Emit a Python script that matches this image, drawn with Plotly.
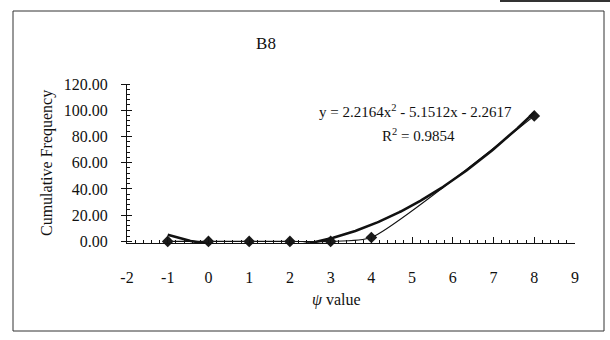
import numpy as np
import plotly.graph_objects as go

# Observed data (phi value vs cumulative frequency)
phi_values = [-1, 0, 1, 2, 3, 4, 8]
cum_freq = [0.0, 0.0, 0.0, 0.0, 0.0, 3.0, 95.7]

# Polynomial trendline coefficients (order 2) and fit quality
coef_a, coef_b, coef_c = 2.2164, -5.1512, -2.2617
r_squared = 0.9854

x_ticks = list(range(-2, 10))
y_ticks = [0, 20, 40, 60, 80, 100, 120]

W, H = 610, 340
ML, MR, MT, MB = 127, 35, 84, 97
PW, PH = W - ML - MR, H - MT - MB


def px(x):
    return (x - ML) / PW


def py(y):
    return (H - MB - y) / PH


FONT = "Liberation Serif, Times New Roman, serif"
INK = "#111111"

trend_x = np.linspace(min(phi_values), max(phi_values), 300)
trend_y = coef_a * trend_x ** 2 + coef_b * trend_x + coef_c

fig = go.Figure()

fig.add_trace(go.Scatter(
    x=phi_values, y=cum_freq, mode="lines+markers",
    line=dict(color=INK, width=1.2, shape="spline", smoothing=0.55),
    marker=dict(symbol="diamond", size=9, color="#1a1a1a"),
    cliponaxis=False, showlegend=False,
))

fig.add_trace(go.Scatter(
    x=trend_x, y=trend_y, mode="lines",
    line=dict(color=INK, width=2.6),
    showlegend=False, hoverinfo="skip",
))

# invisible trace to carry the second (overlay) y axis for cross ticks
fig.add_trace(go.Scatter(x=[None], y=[None], yaxis="y2", showlegend=False))

y_range = [-1.2, 120]

fig.update_layout(
    width=W, height=H,
    margin=dict(l=ML, r=MR, t=MT, b=MB),
    paper_bgcolor="white", plot_bgcolor="white",
    font=dict(family=FONT, size=16, color=INK),
    title=dict(text="B8", x=266 / W, y=1 - 43 / H, xanchor="center",
               yanchor="middle", font=dict(family=FONT, size=17, color=INK)),
    xaxis=dict(
        range=[-2, 9], tickvals=x_ticks, ticktext=[str(v) for v in x_ticks],
        showgrid=False, zeroline=False, showline=True, linecolor=INK,
        linewidth=1, ticks="inside", ticklen=6, tickcolor=INK,
        ticklabelstandoff=20,
        minor=dict(dtick=0.2, ticks="inside", ticklen=3, tickcolor=INK),
    ),
    yaxis=dict(
        range=y_range, tickvals=y_ticks, tickformat=".2f",
        showgrid=False, zeroline=False, showline=True, linecolor=INK,
        linewidth=1, ticks="outside", ticklen=5, tickcolor=INK,
        ticklabelstandoff=10,
        minor=dict(dtick=4, ticks="inside", ticklen=3, tickcolor=INK),
    ),
    yaxis2=dict(
        range=y_range, overlaying="y", side="left", tickvals=y_ticks,
        showticklabels=False, showgrid=False, zeroline=False,
        showline=False, ticks="inside", ticklen=5, tickcolor=INK,
    ),
)

fig.add_annotation(
    text="Cumulative Frequency", textangle=-90, showarrow=False,
    xref="paper", yref="paper", x=px(47), y=py(163),
    xanchor="center", yanchor="middle", font=dict(size=16),
)
fig.add_annotation(
    text="<i>ψ</i> value", showarrow=False,
    xref="paper", yref="paper", x=px(336), y=py(300),
    xanchor="center", yanchor="middle", font=dict(size=16),
)
fig.add_annotation(
    text=f"y = {coef_a}x<sup>2</sup> - {abs(coef_b)}x - {abs(coef_c)}",
    showarrow=False, xref="paper", yref="paper", x=px(415), y=py(111),
    xanchor="center", yanchor="middle", font=dict(size=15),
)
fig.add_annotation(
    text=f"R<sup>2</sup> = {r_squared}",
    showarrow=False, xref="paper", yref="paper", x=px(418), y=py(135),
    xanchor="center", yanchor="middle", font=dict(size=15),
)

# outer chart frame
fig.add_shape(
    type="rect", xref="paper", yref="paper",
    x0=px(13), x1=px(604), y0=py(331), y1=py(11),
    line=dict(color="#333333", width=1), fillcolor="rgba(0,0,0,0)",
)
# dark page edge along the top right
fig.add_shape(
    type="line", xref="paper", yref="paper",
    x0=px(500), x1=px(610), y0=py(1), y1=py(1),
    line=dict(color="#333333", width=2),
)

fig.write_html("out.html")
